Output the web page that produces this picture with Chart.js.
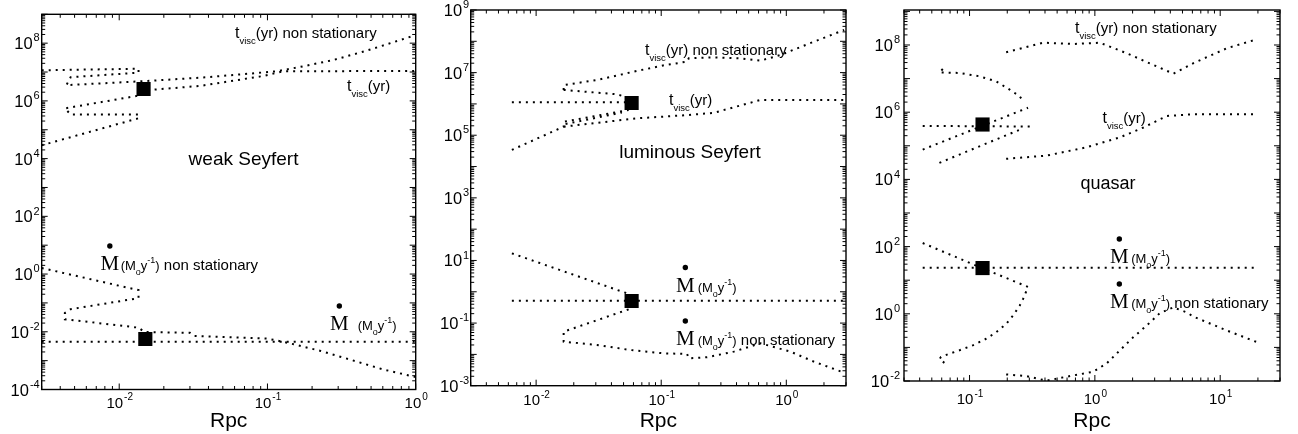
<!DOCTYPE html>
<html>
<head>
<meta charset="utf-8">
<script src="https://cdn.jsdelivr.net/npm/chart.js@4.4.1/dist/chart.umd.min.js"></script>
<style>
  html, body { margin: 0; padding: 0; background: #fff; }
  #wrap { position: relative; width: 1298px; height: 434px; overflow: hidden; }
  canvas { position: absolute; top: 0; }
</style>
</head>
<body>
<div id="wrap">
  <canvas id="weak" width="430" height="434" style="left:0"></canvas>
  <canvas id="lum" width="430" height="434" style="left:430px"></canvas>
  <canvas id="qso" width="438" height="434" style="left:860px"></canvas>
</div>
<script>
const SANS = '"Liberation Sans", Arial, Helvetica, sans-serif';
const SERIF = '"Liberation Serif", "Times New Roman", serif';

// ---- weak Seyfert : [Rpc, value] ----
const weakTviscUpper = [[0.003,1.15e7],[0.0135,1.3e7],[0.0135,9.5e6],[0.0047,6.6e6],[0.0044,3.5e6],[0.0154,4.9e6],[0.039,6.6e6],[0.1156,1.06e7],[0.166,1.5e7],[0.278,2.6e7],[0.467,5.5e7],[1,1.9e8]];
const weakTviscLower = [[0.003,2.9e4],[0.0135,2.5e5],[0.0135,3.4e5],[0.0047,3.4e5],[0.0043,5.5e5],[0.0143,1.6e6],[0.0162,2.4e6],[0.0352,3.3e6],[0.0937,7.3e6],[0.128,1.06e7],[1,1.09e7]];
const weakMdotStat = [[0.003,0.0045],[1,0.0045]];
const weakMdotNonStat = [[0.003,1.62],[0.0135,0.277],[0.0135,0.146],[0.0047,0.0607],[0.0043,0.045],[0.0043,0.0272],[0.0135,0.0139],[0.0148,0.0098],[0.03,0.0092],[0.032,0.0072],[0.1,0.0058],[0.12,0.0048],[0.15,0.0037],[0.226,0.0022],[0.358,0.0011],[0.6,0.0005],[1,0.00027]];
const weakSquares = [[0.0146,2.57e6],[0.015,0.0056]];
const weakXExp = [-2, -1, 0];
const weakYExp = [8, 6, 4, 2, 0, -2, -4];

// ---- luminous Seyfert ----
const lumTviscNonStat = [[0.0166,2.8e6],[0.0166,4.0e6],[0.0306,5.8e6],[0.064,1.13e7],[0.105,1.71e7],[0.161,2.24e7],[0.166,2.86e7],[0.263,3.08e7],[0.43,2.86e7],[0.622,2.41e7],[0.9,3.66e7],[1.66,9.7e7],[2.9,2.3e8]];
const lumTviscBranch = [[0.0166,2.8e6],[0.0443,2.03e6],[0.0532,1.63e6]];
const lumTviscFlat = [[0.0064,1.13e6],[0.0566,1.13e6]];
const lumTviscLow = [[0.0064,3.4e4],[0.0166,1.88e5],[0.0166,2.7e5],[0.0549,6.4e5]];
const lumTviscMid = [[0.0172,2.29e5],[0.0485,5.3e5]];
const lumTviscStat = [[0.0166,1.88e5],[0.064,3.47e5],[0.161,4.4e5],[0.263,5.2e5],[0.622,1.34e6],[2.9,1.34e6]];
const lumMdotStat = [[0.0064,0.52],[2.9,0.52]];
const lumMdotUpper = [[0.0064,16.9],[0.0532,0.893]];
const lumMdotNonStat = [[0.0549,0.275],[0.0166,0.0532],[0.0166,0.0255],[0.0306,0.02],[0.0566,0.0138],[0.105,0.0108],[0.161,0.0103],[0.166,0.0075],[0.233,0.0081],[0.381,0.01225],[0.622,0.0226],[1.08,0.01225],[1.66,0.00586],[2.9,0.00261]];
const lumSquares = [[0.058,1.07e6],[0.058,0.508]];
const lumXExp = [-2, -1, 0];
const lumYExp = [9, 7, 5, 3, 1, -1, -3];

// ---- quasar ----
const qsoTviscNonStat = [[0.196,6.1e7],[0.386,1.17e8],[0.671,1.07e8],[1.096,1.17e8],[1.79,5.7e7],[4.23,1.4e7],[6.12,2.89e7],[11.3,8.0e7],[19.6,1.47e8]];
const qsoTviscUpper = [[0.0612,1.92e7],[0.0575,1.53e7],[0.0832,1.47e7],[0.12,1.17e7],[0.163,8.3e6],[0.209,4.7e6],[0.251,3.0e6],[0.267,2.14e6]];
const qsoTviscCross = [[0.0423,7.7e4],[0.293,1.36e6]];
const qsoTviscFlat = [[0.0423,3.9e5],[0.302,3.75e5]];
const qsoTviscLow = [[0.0575,3.1e4],[0.267,3.3e5]];
const qsoTviscStat = [[0.196,4.1e4],[0.411,5.1e4],[0.857,9.0e4],[1.585,1.78e5],[2.44,3.5e5],[3.74,7.7e5],[6.12,8.7e5],[19.6,8.7e5]];
const qsoMdotStat = [[0.0423,23.4],[19.6,23.4]];
const qsoMdotCurve = [[0.0423,127.6],[0.1256,23],[0.293,6.31],[0.267,2.73],[0.251,1.74],[0.222,0.88],[0.196,0.5],[0.163,0.284],[0.136,0.181],[0.106,0.115],[0.0832,0.082],[0.0692,0.065],[0.0593,0.052],[0.0575,0.045],[0.063,0.0347]];
const qsoMdotNonStat = [[0.196,0.0157],[0.284,0.014],[0.411,0.0102],[0.593,0.0134],[0.97,0.0188],[1.24,0.0332],[1.585,0.082],[2.03,0.203],[2.59,0.447],[3.31,1.06],[4.23,1.55],[5.41,1.1],[6.12,0.824],[11.3,0.318],[19.6,0.144]];
const qsoSquares = [[0.127,4.3e5],[0.127,23]];
const qsoXExp = [-1, 0, 1];
const qsoYExp = [8, 6, 4, 2, 0, -2];

// list of decade / minor tick values inside [min,max]
function logTicks(min, max) {
    const out = [];
    for (let e = Math.floor(Math.log10(min)); e <= Math.ceil(Math.log10(max)); e++) {
        for (let m = 1; m <= 9; m++) {
            const v = m * Math.pow(10, e);
            if (v >= min * 0.999 && v <= max * 1.001) out.push({ v: v, major: m === 1 });
        }
    }
    return out;
}

// write text pieces one after the other (sub/superscripts use dy)
function runs(ctx, x, y, parts) {
    parts.forEach(p => {
        ctx.font = p.s + 'px ' + (p.f || SANS);
        ctx.fillText(p.t, x, y + (p.dy || 0));
        x += ctx.measureText(p.t).width;
    });
    return x;
}

function powerLabel(ctx, e, x, y, align, big, small) {
    const base = '10', sup = String(e);
    ctx.font = big + 'px ' + SANS;
    const wb = ctx.measureText(base).width;
    ctx.font = small + 'px ' + SANS;
    const ws = ctx.measureText(sup).width;
    const left = align === 'center' ? x - (wb + ws) / 2 : x - wb - ws - 1;
    ctx.font = big + 'px ' + SANS;
    ctx.fillText(base, left, y);
    ctx.font = small + 'px ' + SANS;
    ctx.fillText(sup, left + wb + 1, y - 0.47 * big);
}

function drawNote(ctx, n) {
    ctx.textAlign = 'left';
    ctx.textBaseline = 'alphabetic';
    if (n.kind === 'title') {
        ctx.font = n.size + 'px ' + SANS;
        ctx.textAlign = 'center';
        ctx.fillText(n.text, n.x, n.y);
    } else if (n.kind === 'tvisc') {
        runs(ctx, n.x, n.y, [{ t: 't', s: 16 }, { t: 'visc', s: 9.5, dy: 6 }, { t: '(yr)' + (n.tail || ''), s: 15 }]);
    } else if (n.kind === 'mdot') {
        ctx.font = '21px ' + SERIF;
        const wm = ctx.measureText('M').width;
        ctx.fillText('M', n.x, n.y);
        ctx.beginPath();
        ctx.arc(n.x + wm / 2, n.y - 24, 2.7, 0, Math.PI * 2);
        ctx.fill();
        runs(ctx, n.x + wm + n.gap, n.y, [
            { t: '(M', s: 13 }, { t: 'o', s: 9, dy: 5 }, { t: 'y', s: 13 },
            { t: '-1', s: 9, dy: -7 }, { t: ')', s: 13 }, { t: n.tail || '', s: 15 }
        ]);
    }
}

// frame with inward ticks on all four sides, power-of-ten labels and the annotations
const frame = {
    id: 'frame',
    afterDraw(chart, args, o) {
        const { ctx, chartArea: a } = chart;
        const xs = chart.scales.x, ys = chart.scales.y;
        ctx.save();
        ctx.strokeStyle = '#000';
        ctx.fillStyle = '#000';
        ctx.lineWidth = 1;
        ctx.beginPath();
        logTicks(xs.min, xs.max).forEach(t => {
            const px = xs.getPixelForValue(t.v), len = t.major ? 6 : 3.5;
            ctx.moveTo(px, a.bottom); ctx.lineTo(px, a.bottom - len);
            ctx.moveTo(px, a.top); ctx.lineTo(px, a.top + len);
        });
        logTicks(ys.min, ys.max).forEach(t => {
            const py = ys.getPixelForValue(t.v), len = t.major ? 6 : 3.5;
            ctx.moveTo(a.left, py); ctx.lineTo(a.left + len, py);
            ctx.moveTo(a.right, py); ctx.lineTo(a.right - len, py);
        });
        ctx.stroke();
        ctx.lineWidth = 1.4;
        ctx.strokeRect(a.left, a.top, a.right - a.left, a.bottom - a.top);

        ctx.textAlign = 'left';
        ctx.textBaseline = 'alphabetic';
        o.xExp.forEach(e => powerLabel(ctx, e, xs.getPixelForValue(Math.pow(10, e)), a.bottom + o.xLabOff, 'center', 15, 10));
        o.yExp.forEach(e => powerLabel(ctx, e, a.left - o.yLabGap, ys.getPixelForValue(Math.pow(10, e)) + 6, 'right', 16.5, 11));
        o.notes.forEach(n => drawNote(ctx, n));
        ctx.restore();
    }
};

function lineSet(pairs) {
    return {
        data: pairs.map(([x, y]) => ({ x: x, y: y })),
        borderColor: '#000', borderWidth: 2, borderDash: [2, 5],
        pointRadius: 0, fill: false, tension: 0
    };
}

function squareSet(pairs) {
    return {
        data: pairs.map(([x, y]) => ({ x: x, y: y })),
        showLine: false, pointStyle: 'rect', pointRadius: 10,
        backgroundColor: '#000', borderColor: '#000', borderWidth: 0
    };
}

function makePanel(id, cfg) {
    return new Chart(document.getElementById(id), {
        type: 'line',
        data: { datasets: [squareSet(cfg.squares)].concat(cfg.lines.map(lineSet)) },
        options: {
            responsive: false,
            animation: false,
            events: [],
            layout: { padding: { top: cfg.padTop, right: cfg.padRight, left: 0, bottom: 0 } },
            scales: {
                x: {
                    type: 'logarithmic', min: cfg.xMin, max: cfg.xMax,
                    afterFit: s => { s.height = cfg.xAxisH; },
                    ticks: { display: false }, grid: { display: false }, border: { display: false },
                    title: { display: true, text: 'Rpc', color: '#000', padding: 0, font: { family: SANS, size: 21 } }
                },
                y: {
                    type: 'logarithmic', min: cfg.yMin, max: cfg.yMax,
                    afterFit: s => { s.width = cfg.yAxisW; },
                    ticks: { display: false }, grid: { display: false }, border: { display: false }
                }
            },
            plugins: {
                legend: { display: false },
                tooltip: { enabled: false },
                frame: { xExp: cfg.xExp, yExp: cfg.yExp, xLabOff: cfg.xLabOff, yLabGap: cfg.yLabGap, notes: cfg.notes }
            }
        },
        plugins: [frame]
    });
}

makePanel('weak', {
    xMin: 0.003, xMax: 1, yMin: 1e-4, yMax: 1e9,
    padTop: 14.3, padRight: 14.3, yAxisW: 41.7, xAxisH: 44.5,
    xLabOff: 18, yLabGap: 2,
    xExp: weakXExp, yExp: weakYExp, squares: weakSquares,
    lines: [weakTviscUpper, weakTviscLower, weakMdotStat, weakMdotNonStat],
    notes: [
        { kind: 'tvisc', x: 235, y: 38, tail: ' non stationary' },
        { kind: 'tvisc', x: 347, y: 91 },
        { kind: 'title', text: 'weak Seyfert', x: 243.5, y: 164.5, size: 19 },
        { kind: 'mdot', x: 100.5, y: 270, gap: 1.5, tail: ' non stationary' },
        { kind: 'mdot', x: 330, y: 330, gap: 9 }
    ]
});

makePanel('lum', {
    xMin: 0.003, xMax: 3, yMin: 1e-3, yMax: 1e9,
    padTop: 10, padRight: 14, yAxisW: 40.7, xAxisH: 48.3,
    xLabOff: 19.5, yLabGap: 1.5,
    xExp: lumXExp, yExp: lumYExp, squares: lumSquares,
    lines: [lumTviscNonStat, lumTviscBranch, lumTviscFlat, lumTviscLow, lumTviscMid, lumTviscStat, lumMdotStat, lumMdotUpper, lumMdotNonStat],
    notes: [
        { kind: 'tvisc', x: 215, y: 55, tail: ' non stationary' },
        { kind: 'tvisc', x: 239, y: 105 },
        { kind: 'title', text: 'luminous Seyfert', x: 260, y: 158, size: 19 },
        { kind: 'mdot', x: 246, y: 291.5, gap: 3 },
        { kind: 'mdot', x: 246, y: 345, gap: 3, tail: ' non stationary' }
    ]
});

makePanel('qso', {
    xMin: 0.03, xMax: 30, yMin: 1e-2, yMax: 1.1e9,
    padTop: 6.4, padRight: 18, yAxisW: 44, xAxisH: 53,
    xLabOff: 23, yLabGap: 4,
    xExp: qsoXExp, yExp: qsoYExp, squares: qsoSquares,
    lines: [qsoTviscNonStat, qsoTviscUpper, qsoTviscCross, qsoTviscFlat, qsoTviscLow, qsoTviscStat, qsoMdotStat, qsoMdotCurve, qsoMdotNonStat],
    notes: [
        { kind: 'tvisc', x: 215, y: 33, tail: ' non stationary' },
        { kind: 'tvisc', x: 242.5, y: 123 },
        { kind: 'title', text: 'quasar', x: 248, y: 189, size: 18 },
        { kind: 'mdot', x: 250, y: 263, gap: 2.5 },
        { kind: 'mdot', x: 250, y: 308, gap: 2.5, tail: ' non stationary' }
    ]
});
</script>
</body>
</html>
